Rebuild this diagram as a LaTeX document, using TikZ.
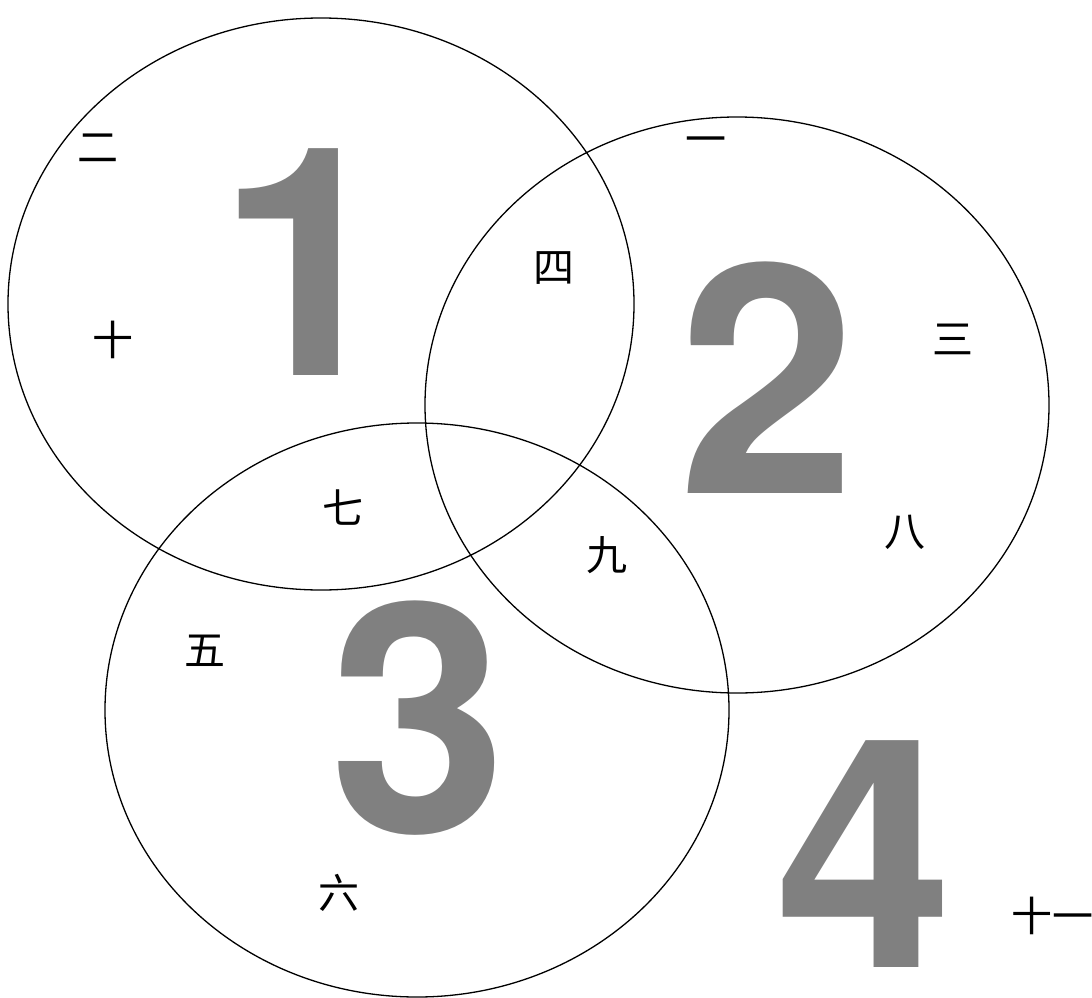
\documentclass[tikz,border=0pt]{standalone}
\usepackage{fontspec}
\setmainfont{TeX Gyre Heros}
\newfontfamily\cjk{Noto Sans CJK SC}
\begin{document}
\begin{tikzpicture}[x=1pt,y=-1pt,
  ring/.style={draw=black,line width=1.3pt},
  bignum/.style={anchor=base,inner sep=0pt,text=numgray,font=\fontsize{320}{320}\selectfont\bfseries},
  zi/.style={inner sep=0pt,font=\cjk\fontsize{41}{41}\selectfont}]
\definecolor{numgray}{RGB}{128,128,128}
\useasboundingbox (0,0) rectangle (1092,998);
% big numbers
\node[bignum] (n1) at (306,375) {1};
\node[bignum] (n2) at (767,493) {2};
\node[bignum] (n3) at (418,832) {3};
\node[bignum] (n4) at (864,967) {4};
% ellipses
\draw[ring] (321,304) ellipse [x radius=313, y radius=286];
\draw[ring] (737,405) ellipse [x radius=312, y radius=288];
\draw[ring] (417,710) ellipse [x radius=312, y radius=287];
% labels
\node[zi] (z2) at (98,148) {二};
\node[zi] (z1) at (706,146) {一};
\node[zi] (z4) at (554,268) {四};
\node[zi] (z10) at (113,340) {十};
\node[zi] (z3) at (953,339) {三};
\node[zi] (z7) at (343,508) {七};
\node[zi] (z8) at (905,532) {八};
\node[zi] (z9) at (607,555) {九};
\node[zi] (z5) at (205,651) {五};
\node[zi] (z6) at (339,893) {六};
\node[zi,anchor=west] (z11) at (1011,916) {十一};
\end{tikzpicture}
\end{document}
